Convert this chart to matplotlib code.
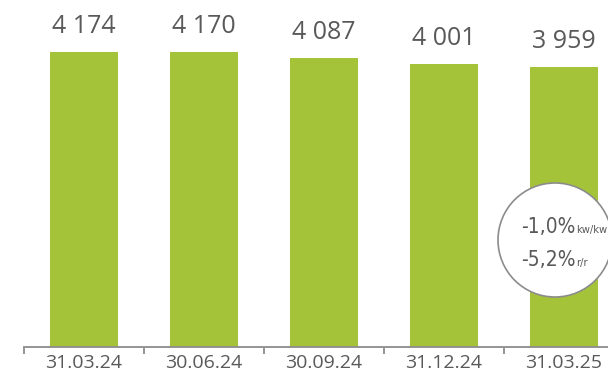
import matplotlib.pyplot as plt
from matplotlib.patches import Circle
from matplotlib.transforms import IdentityTransform
import numpy as np

dates = ["31.03.24", "30.06.24", "30.09.24", "31.12.24", "31.03.25"]
values = [4174, 4170, 4087, 4001, 3959]
labels = ["4 174", "4 170", "4 087", "4 001", "3 959"]
changes = ["-1,0%", "-5,2%"]
change_units = ["kw/kw", "r/r"]

green = "#a4c339"
grey = "#595959"

fig = plt.figure(figsize=(6.08, 3.71), dpi=100)
ax = fig.add_axes([24 / 608, 24 / 371, 600 / 608, 347 / 371])

x = np.arange(len(values))
ax.bar(x, values, width=0.56, color=green, zorder=2)
ax.set_xlim(-0.5, len(values) - 0.5)
ax.set_ylim(0, 4910)

for xi, v, lab in zip(x, values, labels):
    ax.annotate(lab, (xi, v), xytext=(0, 19), textcoords="offset pixels",
                ha="center", va="baseline", fontsize=18, color=grey,
                family="Open Sans")

for s in ["top", "right", "left"]:
    ax.spines[s].set_visible(False)
ax.spines["bottom"].set_color("#8c8c8c")
ax.spines["bottom"].set_linewidth(1.3)
ax.set_yticks([])
ax.set_xticks(x)
ax.set_xticklabels(dates, fontsize=14, color=grey, family="Open Sans")
ax.tick_params(axis="x", which="major", length=0, pad=5)
ax.set_xticks(np.arange(len(values) + 1) - 0.5, minor=True)
ax.tick_params(axis="x", which="minor", length=5, width=1.3, color="#8c8c8c")

# callout circle (pixel coordinates)
circ = Circle((555, 371 - 240), 57, transform=IdentityTransform(),
              facecolor="white", edgecolor="#8c8c8c", linewidth=1.2, zorder=5)
fig.add_artist(circ)

cond = dict(family="DejaVu Sans", stretch="condensed", color=grey,
            va="baseline", ha="left", zorder=6)
renderer = fig.canvas.get_renderer()
for big, small, base in zip(changes, change_units, [233, 266]):
    t = fig.text(521 / 608, (371 - base) / 371, big, fontsize=15, **cond)
    x1 = t.get_window_extent(renderer).x1
    fig.text((x1 + 1) / 608, (371 - base) / 371, small, fontsize=8, **cond)

fig.savefig("out.png", dpi=100)
